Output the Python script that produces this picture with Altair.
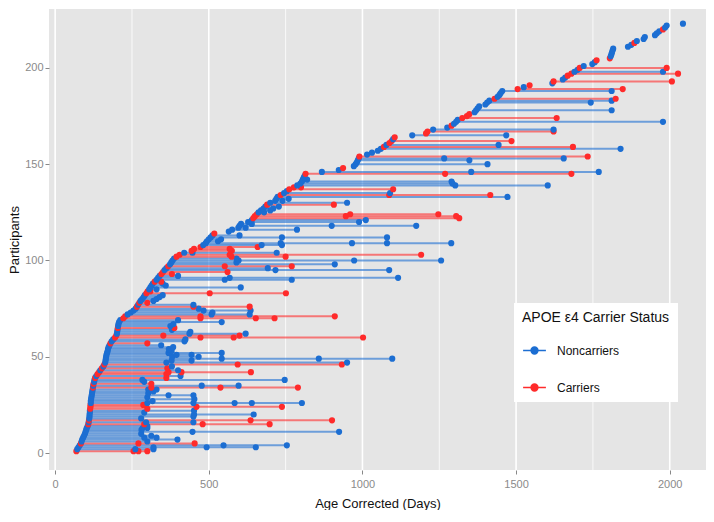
import altair as alt
import pandas as pd

# ---- data ----
start_day = [
    69, 72, 76, 80, 84, 86, 88, 91, 94, 97,
    99, 101, 103, 106, 108, 109, 110, 111, 112, 112,
    113, 113, 114, 115, 115, 116, 116, 117, 118, 119,
    120, 121, 122, 123, 124, 125, 127, 128, 130, 134,
    138, 143, 147, 152, 157, 160, 163, 164, 165, 166,
    167, 169, 171, 172, 174, 177, 180, 184, 189, 195,
    199, 201, 202, 203, 204, 205, 206, 208, 212, 222,
    228, 236, 246, 255, 262, 266, 270, 274, 278, 283,
    288, 292, 297, 301, 306, 310, 314, 318, 324, 330,
    335, 340, 346, 351, 356, 362, 368, 374, 378, 382,
    387, 395, 405, 420, 444, 452, 473, 482, 490, 494,
    500, 506, 512, 518, 565, 576, 596, 600, 605, 628,
    640, 645, 650, 656, 662, 670, 678, 684, 690, 700,
    716, 720, 724, 734, 745, 754, 762, 777, 788, 798,
    803, 806, 809, 812, 815, 868, 923, 937, 972, 978,
    982, 985, 988, 990, 1015, 1031, 1050, 1060, 1070, 1078,
    1088, 1095, 1100, 1105, 1162, 1207, 1212, 1230, 1276, 1290,
    1298, 1305, 1310, 1325, 1340, 1348, 1365, 1370, 1375, 1380,
    1400, 1406, 1413, 1430, 1440, 1446, 1450, 1455, 1505, 1525,
    1544, 1618, 1622, 1652, 1660, 1668, 1680, 1690, 1700, 1707,
    1720, 1748, 1756, 1762, 1805, 1808, 1810, 1812, 1814, 1816,
    1864, 1875, 1885, 1893, 1915, 1919, 1952, 1958, 1966, 1978,
    1985, 1990, 2043,
]

carrier_ids = [
    1, 5, 15, 17, 23, 24, 25, 34, 36, 39, 41, 42, 44, 46, 57, 60, 61, 65,
    70, 71, 76, 78, 83, 84, 89, 93, 94, 97, 102, 103, 105, 106, 107, 114,
    122, 123, 124, 129, 134, 137, 138, 145, 148, 154, 159, 161, 162, 164,
    166, 167, 170, 174, 175, 176, 184, 189, 191, 193, 196, 197, 200, 204,
    205, 213, 220,
]

followups = {
    1: [255, 271, 300], 2: [261, 320], 3: [320, 493, 653], 4: [548, 754],
    5: [271, 454], 6: [300], 7: [398], 8: [290, 330], 9: [313], 10: [280],
    11: [447, 924], 12: [281], 13: [285, 300], 14: [300], 15: [290, 480, 698],
    16: [296, 450], 17: [636, 901], 18: [280], 19: [450], 20: [452, 646],
    21: [290], 22: [452], 23: [300], 24: [460, 738], 25: [287],
    26: [300, 450, 584, 640, 803], 27: [317], 28: [453], 29: [300],
    30: [369, 450], 31: [303], 32: [320], 33: [303, 330], 34: [313, 538, 790],
    35: [477, 597], 36: [313], 37: [290], 38: [284, 747], 39: [362], 40: [408],
    41: [362], 42: [369, 411, 637], 43: [400], 44: [365], 45: [380],
    46: [594, 933], 47: [362, 950], 48: [379, 444], 49: [542, 858, 1097],
    50: [381, 467], 51: [395, 444], 52: [369, 542], 53: [379], 54: [370],
    55: [384], 56: [345], 57: [300], 58: [421], 59: [424],
    60: [473, 581, 1002], 61: [352, 600], 62: [437, 620], 63: [440], 64: [380],
    65: [388], 66: [375], 67: [385], 68: [542], 69: [400], 70: [473, 653, 714],
    71: [473, 910], 72: [509, 633], 73: [512], 74: [483, 636], 75: [467],
    76: [450, 633], 77: [450], 78: [300], 79: [320], 80: [330], 81: [340],
    82: [350], 83: [503, 751], 84: [310], 85: [330], 86: [604], 87: [360],
    88: [350], 89: [345], 90: [552, 770], 91: [568, 1116], 92: [400], 93: [380],
    94: [561], 95: [717, 1087], 96: [692], 97: [552, 770], 98: [910], 99: [590],
    100: [597, 973, 1256], 101: [590], 102: [574, 750], 103: [568, 1191],
    104: [447, 721], 105: [575], 106: [568], 107: [659], 108: [672, 738],
    109: [734, 966, 1080, 1289], 110: [530], 111: [540], 112: [738, 1080],
    113: [600], 116: [787], 117: [620], 118: [900, 1175], 119: [640],
    120: [989], 121: [1011], 122: [1315], 123: [946, 1305], 124: [960, 1247],
    125: [680], 126: [700], 127: [710], 128: [728], 129: [907], 130: [950],
    131: [740], 132: [760], 133: [1472], 134: [1087, 1416], 135: [1090],
    137: [1100], 138: [800], 139: [1302, 1603], 140: [1293], 141: [1290],
    142: [820], 145: [1269, 1680], 146: [1354, 1769], 150: [1407], 152: [1348],
    153: [1266, 1655], 154: [1733], 158: [1840], 159: [1685], 160: [1443],
    162: [1485], 165: [1468], 167: [1622], 168: [1622], 172: [1978],
    174: [1632], 178: [1811], 182: [1743], 183: [1811], 184: [1824],
    188: [1811], 189: [1847], 193: [2007], 197: [2027], 198: [1978], 200: [1990],
}

status_labels = ["Noncarriers", "Carriers"]
status_colors = ["#1C6ED2", "#FF2B2B"]
x_ticks = [0, 500, 1000, 1500, 2000]
y_ticks = [0, 50, 100, 150, 200]
grid_values = [0, 250, 500, 750, 1000, 1250, 1500, 1750, 2000]

# ---- build table ----
rows = []
for i, s in enumerate(start_day, start=1):
    st = status_labels[1] if i in carrier_ids else status_labels[0]
    for d in [s] + followups.get(i, []):
        rows.append({"pid": i, "day": d, "status": st})
df = pd.DataFrame(rows)
grid_df = pd.DataFrame({"day": grid_values,
                        "w": [1.6 if v % 500 == 0 else 0.8 for v in grid_values]})

xscale = alt.Scale(domain=[-20, 2118], nice=False, zero=False)
yscale = alt.Scale(domain=[-8.8, 230.6], nice=False, zero=False)

axis_common = dict(grid=False, domain=False, tickColor="#888888", tickSize=4,
                   tickWidth=1, labelColor="#8a8a8a", labelFontSize=11,
                   titleColor="#111111", titleFontSize=13, titleFontWeight="normal",
                   labelFont="Liberation Sans", titleFont="Liberation Sans")

x_axis = alt.Axis(values=x_ticks, title="Age Corrected (Days)", format="d",
                  labelPadding=4, titlePadding=8, **axis_common)
x_enc = alt.X("day:Q", scale=xscale, axis=x_axis)
y_enc = alt.Y("pid:Q", scale=yscale,
              axis=alt.Axis(values=y_ticks, title="Participants", labelPadding=2,
                            titlePadding=3, **axis_common))

color = alt.Color(
    "status:N",
    scale=alt.Scale(domain=status_labels, range=status_colors),
    legend=alt.Legend(
        title="APOE \u03b54 Carrier Status", orient="none", legendX=465, legendY=294,
        fillColor="white", padding=8, titleFontSize=14, titleFontWeight="normal",
        titleColor="#111111", labelFontSize=12, labelColor="#111111",
        titleFont="Liberation Sans", labelFont="Liberation Sans",
        symbolType="M-1,0H1M0.3,0A0.3,0.3,0,1,1,-0.3,0A0.3,0.3,0,1,1,0.3,0Z",
        symbolSize=520, symbolStrokeWidth=1.5, symbolOpacity=1,
        rowPadding=18, titlePadding=13, labelOffset=10,
    ),
)

grid = alt.Chart(grid_df).mark_rule(color="white").encode(
    x=x_enc,
    strokeWidth=alt.StrokeWidth("w:Q", scale=None, legend=None),
)

lines = alt.Chart(df).mark_line(strokeWidth=2, opacity=0.6).encode(
    x=x_enc, y=y_enc, color=color, detail="pid:N", order="day:Q")

points = alt.Chart(df).mark_circle(size=38, opacity=1).encode(
    x=x_enc, y=y_enc, color=color)

chart = alt.layer(grid, lines, points).properties(
    width=698, height=502, background="white", padding=0,
    autosize=alt.AutoSizeParams(type="fit", contains="padding"),
).configure(font="Liberation Sans").configure_view(fill="#E5E5E5", stroke=None)

chart.save("out.html", embed_options={"renderer": "svg", "actions": False})
